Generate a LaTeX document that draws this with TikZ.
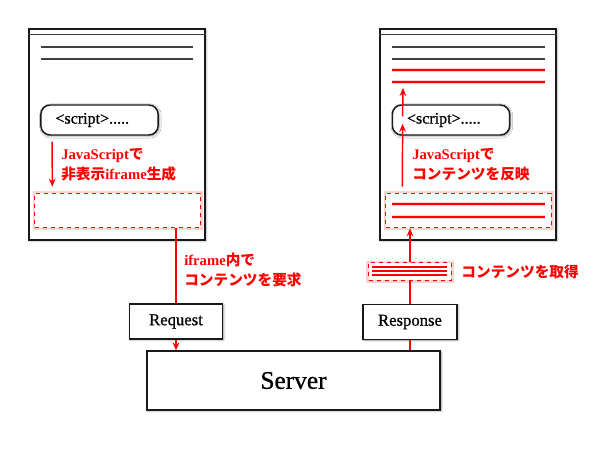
\documentclass[tikz,border=0pt]{standalone}
\usepackage{fontspec}
\setmainfont{Liberation Serif}
\newfontfamily\boxfont{Liberation Serif}[FakeBold=0.8]
\newfontfamily\jpfont{Noto Sans CJK JP}
\usetikzlibrary{arrows.meta,shadows.blur,positioning}
\newcommand{\jp}[1]{{\jpfont\bfseries #1}}

\begin{document}
\begin{tikzpicture}[x=0.75pt,y=-0.75pt,
  box/.style={draw=black!90,line width=1.1pt,fill=white,
    blur shadow={shadow xshift=0.7pt,shadow yshift=-0.7pt,shadow blur radius=1.6pt,
      shadow blur steps=6,shadow opacity=45}},
  window/.style={box,minimum width=132pt,minimum height=158pt,inner sep=0pt},
  scriptbox/.style={box,rounded corners=7pt,minimum height=22.5pt,text width=66pt,
    inner xsep=11pt,align=left,font=\boxfont\fontsize{12}{14}\selectfont},
  msgbox/.style={box,minimum height=26pt,font=\boxfont\fontsize{12.5}{14}\selectfont},
  dashbox/.style={draw=red,dashed,line width=0.75pt,fill=white,
    preaction={draw=red!18,solid,line width=3.5pt},inner sep=0pt},
  redlabel/.style={text=red,font=\bfseries\fontsize{11}{15}\selectfont,align=left,inner sep=0pt},
  textline/.style={draw=black!75,line width=0.9pt},
  redline/.style={draw=red,line width=1pt,preaction={draw=red!18,line width=3pt}},
  flow/.style={red,line width=1.1pt,-{Stealth[length=6pt,width=5pt]}},
  link/.style={red,line width=1.1pt}]
  \useasboundingbox (0,0) rectangle (600,450);

  % browser windows
  \node[window] (winL) at (117,134.5) {};
  \node[window] (winR) at (468,134.5) {};
  \draw[textline] ([yshift=-4.5pt]winL.north west) -- ([yshift=-4.5pt]winL.north east);
  \draw[textline] ([yshift=-4.5pt]winR.north west) -- ([yshift=-4.5pt]winR.north east);
  \foreach \y in {47,59} {
    \draw[textline] (41,\y) -- (193,\y);
    \draw[textline] (392,\y) -- (545,\y);
  }
  \foreach \y in {70,82} \draw[redline] (392,\y) -- (545,\y);

  % scripts
  \node[scriptbox] (scrL) at (99.5,120) {<script>.....};
  \node[scriptbox] (scrR) at (451,120) {<script>.....};

  % iframes
  \node[dashbox,minimum width=124pt,minimum height=26pt] (dashL) at (117.5,210.5) {};
  \node[dashbox,minimum width=124pt,minimum height=26pt] (dashR) at (468.5,210.5) {};
  \foreach \y in {204,217} \draw[redline] (392,\y) -- (545,\y);

  % request / response / server
  \node[msgbox,minimum width=70pt] (req) at (176,321.5) {Request};
  \node[msgbox,minimum width=70.5pt] (resp) at (410,322) {Response};
  \node[box,minimum width=220pt,minimum height=44pt,font=\boxfont\fontsize{19}{22}\selectfont] (srv) at (293.5,380.5) {Server};

  % contents
  \node[dashbox,minimum width=62pt,minimum height=13pt] (pkt) at (410,271.5) {};
  \foreach \y in {267,271,275} \draw[red,line width=0.9pt] (372,\y) -- (447,\y);

  % left flow
  \draw[flow,shorten <=4.5pt,shorten >=4.5pt] ([xshift=9pt]scrL.south west) -- ([xshift=13.5pt]dashL.north west);
  \draw[link] (dashL.south -| req.north) -- (req.north);
  \draw[flow] (req.south) -- (req.south |- srv.north);

  % right flow
  \draw[link] (resp.south) -- (resp.south |- srv.north);
  \draw[link] (resp.north) -- (pkt.south);
  \draw[flow] (pkt.north) -- (dashR.south -| pkt.north);
  \coordinate (reflectTop) at (403,88);
  \draw[flow] ([xshift=12.75pt,yshift=4.5pt]dashR.north west) -- ([xshift=8.25pt,yshift=9pt]scrR.south west);
  \draw[flow] ([xshift=8.25pt,yshift=-9pt]scrR.north west) -- (reflectTop);

  % labels
  \node[redlabel,anchor=west] (genLbl) at (61,165) {JavaScript\jp{で}\\\jp{非表示}iframe\jp{生成}};
  \node[redlabel,anchor=west] (showLbl) at (412,165) {JavaScript\jp{で}\\\jp{コンテンツを反映}};
  \node[redlabel,anchor=west] (askLbl) at (184,270) {iframe\jp{内で}\\\jp{コンテンツを要求}};
  \node[redlabel,right=7pt of pkt] (getLbl) {\jp{コンテンツを取得}};
\end{tikzpicture}
\end{document}
